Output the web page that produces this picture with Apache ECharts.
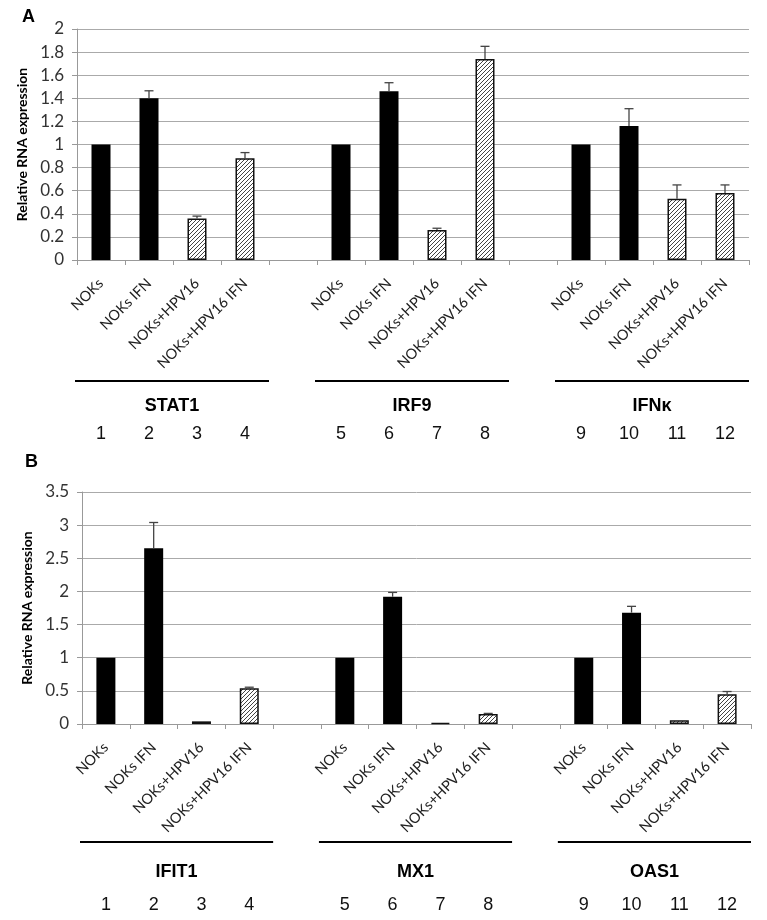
<!DOCTYPE html>
<html><head><meta charset="utf-8">
<script src="https://cdn.jsdelivr.net/npm/echarts@6/dist/echarts.min.js"></script>
<style>html,body{margin:0;padding:0;background:#fff}#c{width:767px;height:920px}</style>
</head><body><div id="c"></div>
<script>
// ---- data ----
const conditions = ['NOKs', 'NOKs IFN', 'NOKs+HPV16', 'NOKs+HPV16 IFN'];
const categories = [...conditions, '', ...conditions, '', ...conditions];
const laneNumbers = ['1', '2', '3', '4', '', '5', '6', '7', '8', '', '9', '10', '11', '12'];
const genesA = ['STAT1', 'IRF9', 'IFNκ'];
const genesB = ['IFIT1', 'MX1', 'OAS1'];
const groupStart = [0, 5, 10];
const groupEnd = [3, 8, 13];
const valuesA = [1, 1.40, 0.36, 0.88, null, 1, 1.46, 0.26, 1.74, null, 1, 1.16, 0.53, 0.58];
const upperA  = [null, 1.465, 0.38, 0.93, null, null, 1.535, 0.275, 1.85, null, null, 1.31, 0.65, 0.65];
const valuesB = [1, 2.65, 0.04, 0.54, null, 1, 1.92, 0.015, 0.15, null, 1, 1.68, 0.055, 0.45];
const upperB  = [null, 3.04, null, 0.555, null, null, 1.985, null, 0.16, null, null, 1.775, null, 0.49];
const axisA = { min: 0, max: 2, interval: 0.2 };
const axisB = { min: 0, max: 3.5, interval: 0.5 };
const yTitle = 'Relative RNA expression';

// ---- styles ----
function hatchCanvas() {
  const c = document.createElement('canvas');
  c.width = 4; c.height = 4;
  const g = c.getContext('2d');
  g.fillStyle = '#fff'; g.fillRect(0, 0, 4, 4);
  g.strokeStyle = '#444'; g.lineWidth = 1;
  g.beginPath();
  g.moveTo(0, 4); g.lineTo(4, 0);
  g.moveTo(-1, 1); g.lineTo(1, -1);
  g.moveTo(3, 5); g.lineTo(5, 3);
  g.stroke();
  return c;
}
const hatch = { image: hatchCanvas(), repeat: 'repeat' };

function barData(values) {
  return values.map((v, i) => {
    if (v == null) return '-';
    const hatched = categories[i].indexOf('HPV16') >= 0;
    return {
      value: v,
      itemStyle: hatched ? { color: hatch, borderColor: '#111', borderWidth: 1.5 } : { color: '#000' }
    };
  });
}

function errSeries(values, upper, xi) {
  const d = [];
  values.forEach((v, i) => { if (upper[i] != null) d.push([i, v, upper[i]]); });
  return {
    type: 'custom', xAxisIndex: xi, yAxisIndex: xi, silent: true, z: 5,
    data: d, encode: { x: 0, y: [1, 2] },
    renderItem: (params, api) => {
      const lo = api.coord([api.value(0), api.value(1)]);
      const hi = api.coord([api.value(0), api.value(2)]);
      const st = { stroke: '#444', lineWidth: 1.3 };
      return { type: 'group', children: [
        { type: 'line', shape: { x1: lo[0], y1: lo[1], x2: hi[0], y2: hi[1] }, style: st },
        { type: 'line', shape: { x1: hi[0] - 4.5, y1: hi[1], x2: hi[0] + 4.5, y2: hi[1] }, style: st }
      ] };
    }
  };
}

function groupSeries(genes, xi, lineOff, nameOff) {
  return {
    type: 'custom', xAxisIndex: xi, yAxisIndex: xi, silent: true,
    data: genes.map((g, k) => [groupStart[k], groupEnd[k], 0]),
    encode: { x: [0, 1], y: 2 },
    renderItem: (params, api) => {
      const w = api.size([1, 0])[0];
      const a = api.coord([api.value(0), 0]);
      const b = api.coord([api.value(1), 0]);
      const x1 = a[0] - w / 2 - 2, x2 = b[0] + w / 2, y = a[1];
      return { type: 'group', children: [
        { type: 'line', shape: { x1: x1, y1: y + lineOff, x2: x2, y2: y + lineOff }, style: { stroke: '#000', lineWidth: 2 } },
        { type: 'text', style: { text: genes[params.dataIndex], x: (x1 + x2) / 2, y: y + nameOff,
          align: 'center', verticalAlign: 'middle', font: 'bold 18px "Liberation Sans", Arial', fill: '#000' } }
      ] };
    }
  };
}

function catAxis(gi) {
  return {
    type: 'category', gridIndex: gi, data: categories, position: 'bottom',
    axisLine: { lineStyle: { color: '#999', width: 1 } },
    axisTick: { show: true, interval: 0, length: 5, lineStyle: { color: '#999' } },
    axisLabel: { interval: 0, rotate: 45, margin: 21, fontSize: 14.5, color: '#222', fontFamily: 'Lato' },
    splitLine: { show: false }
  };
}
function numAxis(gi, off) {
  return {
    type: 'category', gridIndex: gi, data: laneNumbers, position: 'bottom', offset: off,
    axisLine: { show: false }, axisTick: { show: false },
    axisLabel: { interval: 0, margin: 0, fontSize: 18, color: '#111', fontFamily: 'Liberation Sans' }
  };
}
function valAxis(gi, ax) {
  return {
    type: 'value', gridIndex: gi, min: ax.min, max: ax.max, interval: ax.interval,
    name: yTitle, nameLocation: 'middle', nameGap: 45,
    nameTextStyle: { fontSize: 14, fontWeight: 'bold', color: '#000', fontFamily: 'Lato' },
    axisLine: { show: true, lineStyle: { color: '#999' } },
    axisTick: { show: true, length: 5, lineStyle: { color: '#999' } },
    axisLabel: { fontSize: 17, color: '#333', fontFamily: 'Lato', margin: 13 },
    splitLine: { lineStyle: { color: '#aaa', width: 1 } }
  };
}

const chart = echarts.init(document.getElementById('c'), null, { renderer: 'canvas' });
chart.setOption({
  animation: false,
  backgroundColor: '#fff',
  title: [
    { text: 'A', left: 17, top: 3, textStyle: { fontSize: 18, fontWeight: 'bold', color: '#000', fontFamily: 'Liberation Sans' } },
    { text: 'B', left: 20, top: 448, textStyle: { fontSize: 18, fontWeight: 'bold', color: '#000', fontFamily: 'Liberation Sans' } }
  ],
  grid: [
    { left: 77, right: 18, top: 29, height: 231 },
    { left: 82, right: 16, top: 492, height: 232 }
  ],
  xAxis: [catAxis(0), catAxis(1), numAxis(0, 165), numAxis(1, 172)],
  yAxis: [valAxis(0, axisA), valAxis(1, axisB)],
  series: [
    { type: 'bar', xAxisIndex: 0, yAxisIndex: 0, barWidth: 19, data: barData(valuesA), silent: true },
    { type: 'bar', xAxisIndex: 1, yAxisIndex: 1, barWidth: 19, data: barData(valuesB), silent: true },
    errSeries(valuesA, upperA, 0),
    errSeries(valuesB, upperB, 1),
    groupSeries(genesA, 0, 121, 146),
    groupSeries(genesB, 1, 118, 148)
  ]
});
</script>
</body></html>
